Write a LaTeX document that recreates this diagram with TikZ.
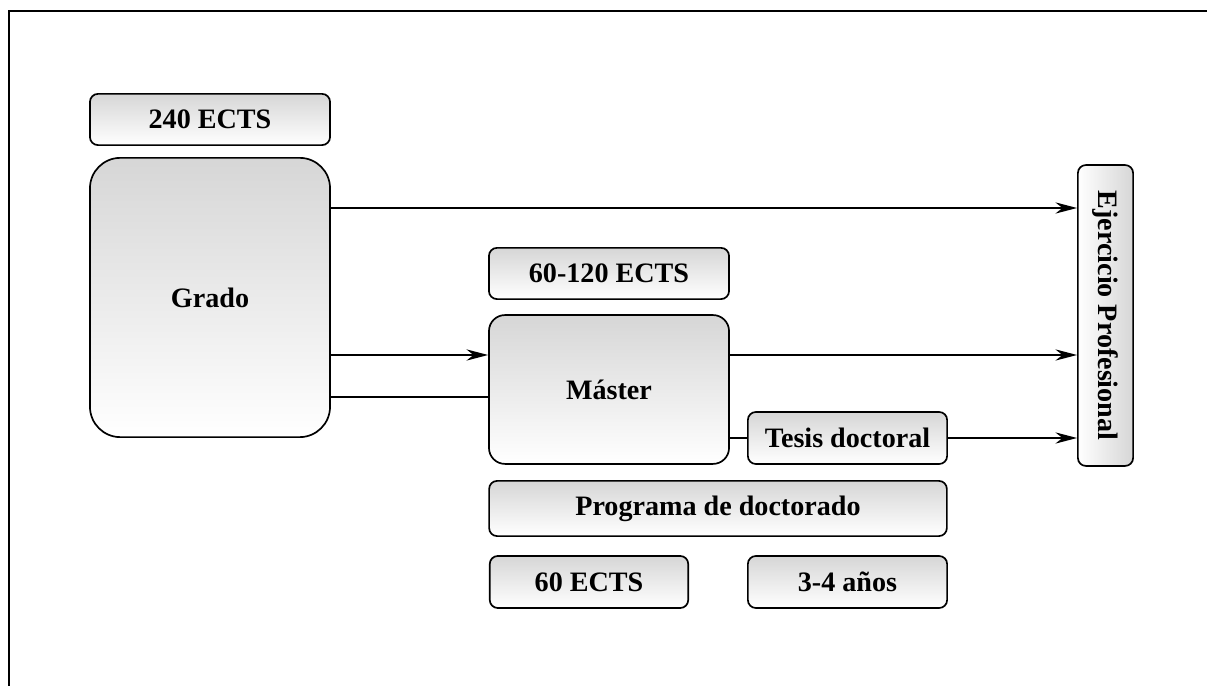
\documentclass[tikz,border=0pt]{standalone}
\usepackage{fontspec}
\setmainfont{Liberation Serif}
\usetikzlibrary{arrows.meta}
\tikzset{
  caja/.style={draw, line width=0.6pt, rounded corners=0.1cm, top color=gray!32,
    bottom color=white, font=\bfseries, inner sep=0pt},
  flecha/.style={line width=0.6pt, -{Stealth[length=0.27cm,width=0.14cm]}},
  linea/.style={line width=0.6pt}
}
\begin{document}
\begin{tikzpicture}[x=0.0125cm,y=-0.0125cm]
  \useasboundingbox (0,0) rectangle (1207,686);
  \draw[line width=0.7pt] (9,686) -- (9,11) -- (1207,11);
  \draw
    (210,119.5) node[caja, minimum width=3cm, minimum height=0.64cm] (e240){240 ECTS}
    (210,297.5) node[caja, minimum width=3cm, minimum height=3.49cm, rounded corners=0.38cm] (grado){Grado}
    (609,273.5) node[caja, minimum width=3cm, minimum height=0.64cm] (e60120){60-120 ECTS}
    (609,389.5) node[caja, minimum width=3cm, minimum height=1.86cm, rounded corners=0.2cm] (master){Máster}
    (847.5,438) node[caja, minimum width=2.49cm, minimum height=0.65cm] (tesis){Tesis doctoral}
    (718,508.5) node[caja, minimum width=5.72cm, minimum height=0.69cm] (programa){Programa de doctorado}
    (589,582) node[caja, minimum width=2.48cm, minimum height=0.65cm] (e60){60 ECTS}
    (847.5,582) node[caja, minimum width=2.49cm, minimum height=0.65cm] (anios){3-4 años}
    (1105.5,315.5) node[caja, minimum width=0.69cm, minimum height=3.76cm, top color=white,
      bottom color=white, left color=white, right color=gray!32] (ejercicio){\rotatebox{-90}{Ejercicio Profesional}};
  \begin{scope}[flecha]
    \draw (grado.east |- 0,208) to (ejercicio.west |- 0,208);
    \draw (grado.east |- 0,355) to (master.west |- 0,355);
    \draw (master.east |- 0,355) to (ejercicio.west |- 0,355);
    \draw (tesis.east) to (ejercicio.west |- tesis);
  \end{scope}
  \begin{scope}[linea]
    \draw (grado.east |- 0,397) to (master.west |- 0,397);
    \draw (master.east |- tesis) to (tesis.west);
  \end{scope}
\end{tikzpicture}
\end{document}
